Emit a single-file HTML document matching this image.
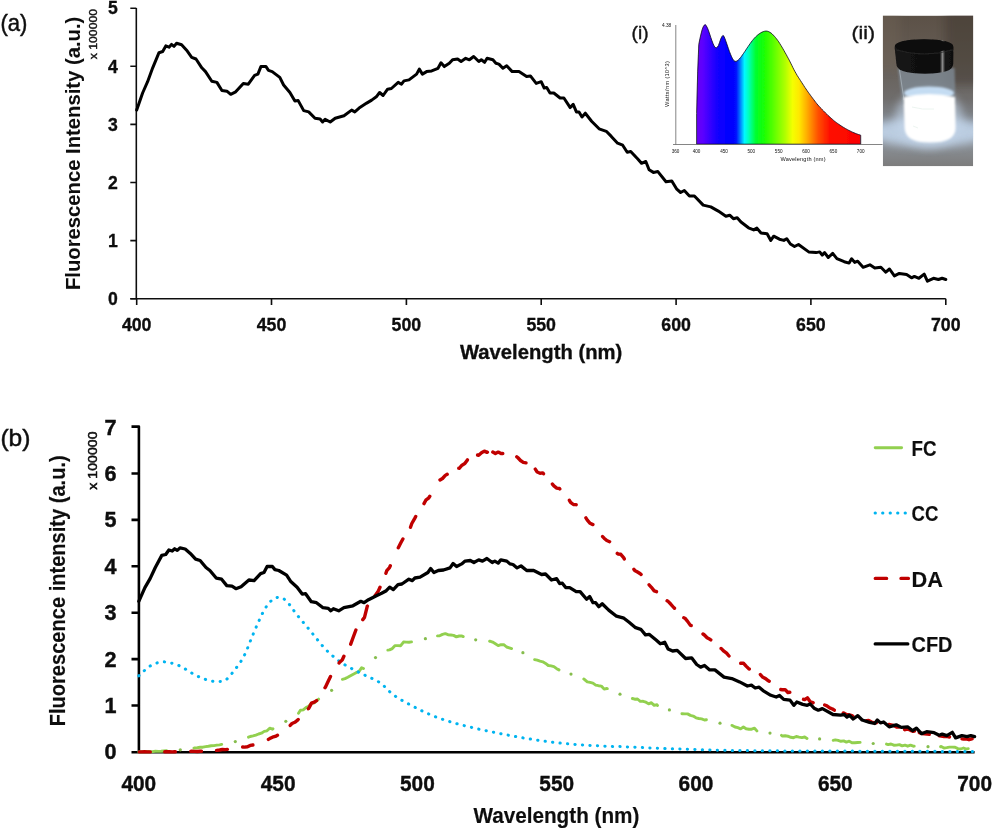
<!DOCTYPE html>
<html lang="en"><head><meta charset="utf-8"><title>Fluorescence spectra</title>
<style>
html,body{margin:0;padding:0;background:#fff;}
body{width:993px;height:828px;overflow:hidden;}
svg{display:block;}
text{font-family:"Liberation Sans",sans-serif;fill:#111;}
.b{font-weight:bold;stroke:#000;stroke-width:0.3px;}
#plot-b .b{stroke-width:0.15px;}
#plot-b .t{stroke-width:0.36px;}
</style></head><body>
<svg width="993" height="828" viewBox="0 0 993 828">
<defs>
<linearGradient id="spec" x1="0" y1="0" x2="1" y2="0">
<stop offset="0" stop-color="#6a00f4"/>
<stop offset="0.04" stop-color="#5a00ff"/>
<stop offset="0.085" stop-color="#3400ff"/>
<stop offset="0.13" stop-color="#1200ff"/>
<stop offset="0.20" stop-color="#0000ff"/>
<stop offset="0.24" stop-color="#0008ff"/>
<stop offset="0.265" stop-color="#0078ff"/>
<stop offset="0.292" stop-color="#00f8ff"/>
<stop offset="0.315" stop-color="#00ffc0"/>
<stop offset="0.36" stop-color="#00ff30"/>
<stop offset="0.40" stop-color="#10ff08"/>
<stop offset="0.46" stop-color="#50ff00"/>
<stop offset="0.54" stop-color="#b0ff00"/>
<stop offset="0.585" stop-color="#f4ff00"/>
<stop offset="0.625" stop-color="#ffe800"/>
<stop offset="0.67" stop-color="#ffb000"/>
<stop offset="0.74" stop-color="#ff5000"/>
<stop offset="0.81" stop-color="#ff1000"/>
<stop offset="1" stop-color="#fa0000"/>
</linearGradient>
<linearGradient id="pbg" x1="0" y1="0" x2="0" y2="1">
<stop offset="0" stop-color="#5c5147"/>
<stop offset="0.3" stop-color="#655d55"/>
<stop offset="0.55" stop-color="#6f6d6c"/>
<stop offset="0.72" stop-color="#868d96"/>
<stop offset="0.86" stop-color="#8a8f95"/>
<stop offset="1" stop-color="#7c7c7c"/>
</linearGradient>
<radialGradient id="glow" cx="0.5" cy="0.5" r="0.5">
<stop offset="0" stop-color="#ffffff" stop-opacity="1"/>
<stop offset="0.45" stop-color="#eaf4ff" stop-opacity="0.95"/>
<stop offset="0.7" stop-color="#b8d4ee" stop-opacity="0.6"/>
<stop offset="1" stop-color="#9ab4d0" stop-opacity="0"/>
</radialGradient>
<linearGradient id="cap" x1="0" y1="0" x2="1" y2="0">
<stop offset="0" stop-color="#141414"/>
<stop offset="0.77" stop-color="#0e0e0e"/>
<stop offset="0.815" stop-color="#8a8a8a"/>
<stop offset="0.86" stop-color="#141414"/>
<stop offset="1" stop-color="#101010"/>
</linearGradient>
<filter id="bl1" x="-20%" y="-20%" width="140%" height="140%"><feGaussianBlur stdDeviation="1.2"/></filter>
<filter id="bl2" x="-30%" y="-30%" width="160%" height="160%"><feGaussianBlur stdDeviation="4"/></filter>
<filter id="soft" x="-2%" y="-2%" width="104%" height="104%" filterUnits="objectBoundingBox"><feGaussianBlur stdDeviation="0.45"/></filter>
<filter id="bl05" x="-10%" y="-10%" width="120%" height="120%"><feGaussianBlur stdDeviation="0.45"/></filter>
<filter id="blt" x="-10%" y="-30%" width="120%" height="160%"><feGaussianBlur stdDeviation="0.5"/></filter>
<clipPath id="pclip"><rect x="882.8" y="15.6" width="90.4" height="150.7"/></clipPath>
</defs>
<rect width="993" height="828" fill="#fff"/>

<g id="plot-a" filter="url(#soft)">
<text x="0.4" y="30.6" font-size="24" textLength="27" lengthAdjust="spacingAndGlyphs" stroke="#111" stroke-width="0.5">(a)</text>
<g stroke="#111" stroke-width="1.6" fill="none">
<path d="M136.29999999999998 8V298.7M130.29999999999998 298.7H945.8"/>
<path d="M130.29999999999998 298.7H136.29999999999998M130.29999999999998 240.6H136.29999999999998M130.29999999999998 182.5H136.29999999999998M130.29999999999998 124.4H136.29999999999998M130.29999999999998 66.3H136.29999999999998M130.29999999999998 8.2H136.29999999999998M136.7 298.7V304.9M271.5 298.7V304.9M406.4 298.7V304.9M541.2 298.7V304.9M676.1 298.7V304.9M810.9 298.7V304.9M945.8 298.7V304.9"/></g>
<g class="b" font-size="17.6" text-anchor="end">
<text x="117.7" y="304.9">0</text>
<text x="117.7" y="246.8">1</text>
<text x="117.7" y="188.7">2</text>
<text x="117.7" y="130.6">3</text>
<text x="117.7" y="72.5">4</text>
<text x="117.7" y="14.4">5</text>
</g>
<g class="b" font-size="17.6" text-anchor="middle">
<text x="136.7" y="331.2" textLength="29.6" lengthAdjust="spacingAndGlyphs">400</text>
<text x="271.5" y="331.2" textLength="29.6" lengthAdjust="spacingAndGlyphs">450</text>
<text x="406.4" y="331.2" textLength="29.6" lengthAdjust="spacingAndGlyphs">500</text>
<text x="541.2" y="331.2" textLength="29.6" lengthAdjust="spacingAndGlyphs">550</text>
<text x="676.1" y="331.2" textLength="29.6" lengthAdjust="spacingAndGlyphs">600</text>
<text x="810.9" y="331.2" textLength="29.6" lengthAdjust="spacingAndGlyphs">650</text>
<text x="945.8" y="331.2" textLength="29.6" lengthAdjust="spacingAndGlyphs">700</text>
</g>
<text class="b" x="541.1" y="359.3" font-size="20.4" text-anchor="middle" textLength="162.4" lengthAdjust="spacingAndGlyphs">Wavelength (nm)</text>
<text class="b" stroke-width="0" style="stroke-width:0.05px" transform="translate(80.1 153.4) rotate(-90)" font-size="21" text-anchor="middle" textLength="273.4" lengthAdjust="spacingAndGlyphs">Fluorescence Intensity (a.u.)</text>
<text transform="translate(96.7 34.1) rotate(-90)" font-size="10.8" text-anchor="middle" textLength="50.4" lengthAdjust="spacingAndGlyphs" stroke="#111" stroke-width="0.4">x 100000</text>
<path d="M136.7 110.1L142.6 93.0L147.6 81.7L152.7 67.8L159.0 52.7L162.7 51.5L165.8 45.9L169.0 47.2L171.5 44.4L174.0 46.4L176.6 43.2L181.6 44.7L186.6 50.2L191.7 57.3L196.0 59.0L201.8 67.8L205.5 71.6L211.8 81.2L216.9 82.4L221.9 90.5L226.9 91.2L230.7 94.3L235.7 91.8L243.3 83.4L248.3 84.2L254.6 75.4L257.9 74.1L260.9 66.6L266.0 66.6L268.5 70.4L272.2 71.6L279.8 77.4L283.6 85.0L289.9 92.5L294.9 101.1L298.2 100.6L303.7 110.6L308.7 111.9L315.0 118.2L320.1 119.0L322.6 122.0L325.1 119.4L330.2 122.0L335.2 118.2L344.0 115.7L351.6 110.1L354.8 111.9L359.1 108.1L366.7 103.1L371.7 100.1L376.3 96.8L379.6 92.5L383.1 95.5L387.6 89.2L391.4 88.5L398.2 82.4L401.5 84.2L404.0 80.9L409.0 79.9L416.6 74.1L419.3 69.1L422.4 74.1L426.6 71.6L431.7 70.9L438.0 68.3L441.0 62.8L444.3 66.6L449.3 63.3L452.6 59.8L457.6 59.0L461.1 61.5L465.7 58.3L469.4 59.8L473.7 56.5L478.8 61.5L481.3 59.8L484.6 62.3L487.1 58.3L492.9 59.8L495.9 63.3L498.9 64.1L502.9 68.3L506.7 65.8L512.2 71.6L519.0 71.6L526.6 76.6L530.4 75.9L536.2 83.4L541.2 81.7L544.2 88.0L546.7 87.5L550.0 93.0L553.8 93.0L560.1 98.0L563.9 98.0L570.2 107.6L573.2 104.3L576.4 111.9L579.0 111.9L582.0 116.9L585.3 113.2L591.6 121.2L599.1 128.8L606.3 131.3L611.3 136.4L617.6 143.2L622.7 145.2L627.2 152.2L630.7 151.5L637.8 159.0L641.5 163.3L645.8 161.5L649.1 169.8L653.4 172.4L657.9 171.6L666.0 181.7L671.8 180.9L676.8 189.2L680.6 192.5L684.3 190.5L689.4 196.0L694.4 196.0L703.2 205.1L710.8 206.9L718.3 211.1L725.9 216.2L729.7 215.2L733.4 218.7L737.2 217.7L741.0 222.0L748.5 227.8L753.7 229.9L756.9 228.1L761.0 233.0L767.1 233.8L770.8 240.4L773.7 236.2L779.4 239.2L783.8 240.4L786.7 238.7L790.4 244.0L794.5 246.5L798.5 244.5L808.7 251.9L816.1 252.6L819.7 251.9L822.2 255.1L824.6 252.6L828.3 257.5L832.7 253.3L836.9 258.7L844.2 261.7L849.1 263.1L851.6 258.7L854.7 262.4L857.7 261.2L863.1 267.3L869.9 264.8L874.8 268.0L880.9 267.3L885.8 272.2L889.5 269.0L894.4 275.9L899.3 273.4L906.6 274.6L911.5 277.8L914.4 276.4L918.9 278.3L924.2 274.1L927.4 281.2L933.5 278.3L938.4 279.5L942.1 278.3L945.8 279.5" fill="none" stroke="#000" stroke-width="3" stroke-linejoin="round" stroke-linecap="round"/>
</g>
<g id="inset-i">
<text x="631.6" y="38.6" font-size="18.8" textLength="17" lengthAdjust="spacingAndGlyphs" fill="#222" stroke="#222" stroke-width="0.42">(i)</text>
<clipPath id="sclip"><path d="M696.6 144.2L696.6 113.6L697.7 71.1L698.8 44.4L699.9 38.8L701.0 34.0L702.1 29.8L703.2 26.8L704.3 25.1L705.4 24.6L706.4 26.0L707.5 28.1L708.6 30.9L709.7 34.1L710.8 37.5L711.9 40.6L713.0 43.5L714.1 45.9L715.2 47.4L716.3 47.8L717.4 47.1L718.5 45.4L719.6 42.3L720.7 39.1L721.8 36.7L722.9 35.4L724.0 36.3L725.0 38.8L726.1 41.8L727.2 45.0L728.3 48.3L729.4 51.4L730.5 54.2L731.6 56.8L732.7 59.0L733.8 60.5L734.9 61.3L736.0 61.4L737.1 60.9L738.2 60.1L739.3 59.0L740.4 57.7L741.5 56.3L742.5 54.8L743.6 53.3L744.7 51.7L745.8 50.0L746.9 48.3L748.0 46.7L749.1 45.1L750.2 43.5L751.3 42.0L752.4 40.5L753.5 39.2L754.6 37.9L755.7 36.8L756.8 35.8L757.9 34.8L759.0 34.0L760.1 33.3L761.1 32.6L762.2 32.1L763.3 31.6L764.4 31.3L765.5 31.1L766.6 31.1L767.7 31.3L768.8 31.7L769.9 32.3L771.0 33.0L772.1 33.9L773.2 35.0L774.3 36.2L775.4 37.4L776.5 38.8L777.6 40.3L778.7 41.8L779.7 43.4L780.8 45.2L781.9 47.0L783.0 48.9L784.1 50.8L785.2 52.8L786.3 54.7L787.4 56.8L788.5 58.8L789.6 60.9L790.7 63.1L791.8 65.3L792.9 67.6L794.0 69.8L795.1 71.8L796.2 73.7L797.2 75.5L798.3 77.2L799.4 78.9L800.5 80.6L801.6 82.3L802.7 84.0L803.8 85.7L804.9 87.4L806.0 89.0L807.1 90.6L808.2 92.2L809.3 93.7L810.4 95.2L811.5 96.7L812.6 98.2L813.7 99.6L814.8 101.1L815.8 102.4L816.9 103.8L818.0 105.1L819.1 106.3L820.2 107.5L821.3 108.6L822.4 109.8L823.5 110.9L824.6 112.0L825.7 113.1L826.8 114.2L827.9 115.3L829.0 116.3L830.1 117.3L831.2 118.3L832.3 119.2L833.4 120.2L834.4 121.1L835.5 121.9L836.6 122.7L837.7 123.5L838.8 124.3L839.9 125.0L841.0 125.8L842.1 126.5L843.2 127.2L844.3 127.8L845.4 128.5L846.5 129.1L847.6 129.7L848.7 130.3L849.8 130.8L850.9 131.4L851.9 131.9L853.0 132.4L854.1 132.8L855.2 133.3L856.3 133.7L857.4 134.1L858.5 134.5L859.6 134.8L860.7 135.2L860.7 144.2Z"/></clipPath><g filter="url(#bl05)"><g clip-path="url(#sclip)"><rect x="696.6" y="22.6" width="164.10000000000002" height="121.6" fill="url(#spec)"/></g><path d="M696.6 144.2L696.6 113.6L697.7 71.1L698.8 44.4L699.9 38.8L701.0 34.0L702.1 29.8L703.2 26.8L704.3 25.1L705.4 24.6L706.4 26.0L707.5 28.1L708.6 30.9L709.7 34.1L710.8 37.5L711.9 40.6L713.0 43.5L714.1 45.9L715.2 47.4L716.3 47.8L717.4 47.1L718.5 45.4L719.6 42.3L720.7 39.1L721.8 36.7L722.9 35.4L724.0 36.3L725.0 38.8L726.1 41.8L727.2 45.0L728.3 48.3L729.4 51.4L730.5 54.2L731.6 56.8L732.7 59.0L733.8 60.5L734.9 61.3L736.0 61.4L737.1 60.9L738.2 60.1L739.3 59.0L740.4 57.7L741.5 56.3L742.5 54.8L743.6 53.3L744.7 51.7L745.8 50.0L746.9 48.3L748.0 46.7L749.1 45.1L750.2 43.5L751.3 42.0L752.4 40.5L753.5 39.2L754.6 37.9L755.7 36.8L756.8 35.8L757.9 34.8L759.0 34.0L760.1 33.3L761.1 32.6L762.2 32.1L763.3 31.6L764.4 31.3L765.5 31.1L766.6 31.1L767.7 31.3L768.8 31.7L769.9 32.3L771.0 33.0L772.1 33.9L773.2 35.0L774.3 36.2L775.4 37.4L776.5 38.8L777.6 40.3L778.7 41.8L779.7 43.4L780.8 45.2L781.9 47.0L783.0 48.9L784.1 50.8L785.2 52.8L786.3 54.7L787.4 56.8L788.5 58.8L789.6 60.9L790.7 63.1L791.8 65.3L792.9 67.6L794.0 69.8L795.1 71.8L796.2 73.7L797.2 75.5L798.3 77.2L799.4 78.9L800.5 80.6L801.6 82.3L802.7 84.0L803.8 85.7L804.9 87.4L806.0 89.0L807.1 90.6L808.2 92.2L809.3 93.7L810.4 95.2L811.5 96.7L812.6 98.2L813.7 99.6L814.8 101.1L815.8 102.4L816.9 103.8L818.0 105.1L819.1 106.3L820.2 107.5L821.3 108.6L822.4 109.8L823.5 110.9L824.6 112.0L825.7 113.1L826.8 114.2L827.9 115.3L829.0 116.3L830.1 117.3L831.2 118.3L832.3 119.2L833.4 120.2L834.4 121.1L835.5 121.9L836.6 122.7L837.7 123.5L838.8 124.3L839.9 125.0L841.0 125.8L842.1 126.5L843.2 127.2L844.3 127.8L845.4 128.5L846.5 129.1L847.6 129.7L848.7 130.3L849.8 130.8L850.9 131.4L851.9 131.9L853.0 132.4L854.1 132.8L855.2 133.3L856.3 133.7L857.4 134.1L858.5 134.5L859.6 134.8L860.7 135.2L860.7 144.2Z" fill="none" stroke="#0a0a20" stroke-width="1" stroke-opacity="0.8"/></g>
<g filter="url(#bl05)"><path d="M675.8 25.0V144.5M673 144.5H882.6" stroke="#666" stroke-width="0.8" fill="none"/></g>
<g filter="url(#blt)" fill="#444">
<g font-size="4.6" text-anchor="middle" fill="#333">
<text x="675.6" y="153.4">360</text>
<text x="696.6" y="153.4">400</text>
<text x="724.0" y="153.4">450</text>
<text x="751.3" y="153.4">500</text>
<text x="778.7" y="153.4">550</text>
<text x="806.0" y="153.4">600</text>
<text x="833.4" y="153.4">650</text>
<text x="860.7" y="153.4">700</text>
</g>
<text x="803" y="161.2" font-size="5.6" text-anchor="middle" fill="#333" textLength="45" lengthAdjust="spacing">Wavelength (nm)</text>
<text x="666.6" y="27" font-size="4.8" text-anchor="middle" fill="#333">4.38</text>
<text transform="translate(669.2 84) rotate(-90)" font-size="5.6" text-anchor="middle" fill="#333" textLength="46" lengthAdjust="spacing">Watts/nm (10^3)</text>
</g>
</g>
<g id="inset-ii">
<text x="851.4" y="38.6" font-size="18.8" textLength="23.6" lengthAdjust="spacingAndGlyphs" fill="#222" stroke="#222" stroke-width="0.42">(ii)</text>
<g clip-path="url(#pclip)">
<rect x="882.8" y="15.6" width="90.4" height="150.7" fill="url(#pbg)"/>
<rect x="945" y="10" width="40" height="75" fill="#3e362e" opacity="0.45" filter="url(#bl2)"/>
<rect x="870" y="10" width="30" height="60" fill="#75695c" opacity="0.35" filter="url(#bl2)"/>
<ellipse cx="929" cy="132" rx="60" ry="15" fill="#c4d8ee" opacity="0.85" filter="url(#bl2)"/>
<ellipse cx="929" cy="118" rx="34" ry="30" fill="#c4d6ea" opacity="0.6" filter="url(#bl2)"/>
<path d="M897.8 68 L902.6 104 L955.6 104 L954.6 68Z" fill="#7f8a94" opacity="0.8" filter="url(#bl1)"/>
<path d="M899.5 70 L904 100" stroke="#aeb8c0" stroke-width="1" opacity="0.7" filter="url(#bl05)"/>
<ellipse cx="929" cy="93" rx="25" ry="6.5" fill="#c4dcf2" filter="url(#bl1)"/>
<path d="M903.6 97 Q929 91 955 97 L955.6 128 Q955.6 142.6 930 142.6 Q905 142.6 904.6 128Z" fill="#ffffff" filter="url(#bl1)"/>
<path d="M912 107 Q922 110 934 109 M913 126 L918 128" stroke="#d8e8e0" stroke-width="0.8" fill="none" opacity="0.6" filter="url(#bl05)"/>
<g filter="url(#bl05)"><path d="M894.6 47 Q894.6 39.4 924 39.2 Q953.4 39.4 953.4 47 L953.2 64 Q953 73.6 925 73.8 Q896.6 73.6 896.4 64Z" fill="url(#cap)"/>
<ellipse cx="924" cy="46" rx="29" ry="6.4" fill="#0c0c0c"/>
<path d="M896 50 Q924 58 952.6 50" stroke="#2a2a2a" stroke-width="0.8" fill="none"/></g>
</g>
</g>
<g id="plot-b" filter="url(#soft)">
<text x="0.4" y="446.4" font-size="24.5" textLength="30" lengthAdjust="spacingAndGlyphs" stroke="#111" stroke-width="0.5">(b)</text>
<g stroke="#000" stroke-width="2.6" fill="none" stroke-linejoin="round">
<path d="M131.5 426.6H138.9V752.1999999999999M131.5 752.1999999999999H974.6M131.5 705.5H138.9M131.5 659.1H138.9M131.5 612.7H138.9M131.5 566.3H138.9M131.5 519.9H138.9M131.5 473.5H138.9"/></g>
<path d="M138.8 751.9L141.6 751.6L144.4 751.9L147.2 751.5L149.9 751.7L152.7 751.6L155.5 751.2L158.3 751.4L161.1 751.3L163.9 751.0L166.5 750.8M193.9 748.1L194.5 748.0L197.3 747.7L200.1 747.3L202.9 747.2L205.7 746.6L208.4 746.2L211.2 745.7L214.0 745.6L216.8 745.1L219.6 744.9L221.7 744.4M248.5 737.2L250.2 736.5L253.0 735.9L255.8 735.1L258.6 734.0L261.4 733.2L264.2 731.4L267.0 730.8L269.7 728.2L272.5 729.2L273.0 728.8M298.5 713.2L300.4 710.3L303.2 709.9L306.0 707.6L308.7 706.2L311.5 703.3L314.3 702.9L317.1 700.3L318.6 699.1M342.4 679.3L345.0 678.6L347.8 677.2L350.5 675.7L353.3 674.2L356.1 672.7L358.9 671.7L361.7 667.7L363.5 668.5M387.8 650.1L389.5 649.9L392.3 648.6L395.1 645.6L397.9 645.6L400.7 645.7L403.5 642.0L406.3 642.1L409.0 642.2L411.5 641.9M437.5 635.9L439.7 635.8L442.5 634.4L445.3 633.6L448.0 634.7L450.8 635.0L453.6 635.4L456.4 636.9L459.2 636.0L462.0 636.0L463.2 636.6M489.6 641.2L489.8 641.1L492.6 642.1L495.4 643.8L498.2 645.6L501.0 644.6L503.8 644.7L506.6 647.0L509.3 647.8L511.6 648.6M534.6 659.6L537.2 660.2L540.0 661.2L542.8 661.8L545.6 663.4L548.3 665.5L551.1 665.9L553.9 666.6L556.7 668.7L559.0 669.9M583.8 679.1L584.6 679.6L587.3 681.9L590.1 682.4L592.9 683.1L595.7 685.1L598.5 685.7L601.3 686.1L604.1 689.1L606.8 688.5L607.3 688.6M632.4 698.5L634.7 699.2L637.5 699.0L640.3 701.4L643.1 701.3L645.9 702.2L648.6 703.8L651.4 702.7L654.2 705.4L657.0 704.7L657.5 705.5M681.9 713.7L682.1 713.7L684.9 713.9L687.6 713.9L690.4 715.4L693.2 716.1L696.0 717.8L698.8 718.5L701.6 718.9L704.4 720.0L706.4 719.7M731.9 725.4L732.2 725.4L735.0 727.0L737.8 727.7L740.6 728.9L743.4 727.0L746.1 728.8L748.9 729.2L751.7 729.2L754.5 728.2L756.9 730.9M781.5 735.4L782.4 736.0L785.2 735.8L787.9 736.2L790.7 737.3L793.5 737.7L796.3 736.5L799.1 737.1L801.9 737.6L804.7 737.0L807.0 738.4M833.2 740.3L835.3 739.9L838.1 740.4L840.9 741.3L843.7 740.9L846.4 742.1L849.2 741.2L852.0 742.7L854.8 742.7L857.6 742.5L860.1 742.4M886.5 744.1L888.2 744.6L891.0 744.0L893.8 745.2L896.6 745.1L899.4 744.6L902.2 745.9L905.0 745.2L907.7 746.2L910.5 745.2L913.3 746.2L914.2 746.1M940.6 746.7L941.2 746.5L944.0 748.0L946.7 747.6L949.5 747.1L952.3 747.1L955.1 747.2L957.9 748.6L960.7 749.0L963.5 748.0L966.2 749.1L968.3 748.7" fill="none" stroke="#92d050" stroke-width="2.9" stroke-linejoin="round" stroke-linecap="round"/>
<g fill="#86bd4e"><circle cx="180.3" cy="749.8" r="1.6"/><circle cx="235.3" cy="741.6" r="1.6"/><circle cx="285.8" cy="721.3" r="1.6"/><circle cx="331.6" cy="690.3" r="1.6"/><circle cx="375.5" cy="657.6" r="1.6"/><circle cx="425.4" cy="638.7" r="1.6"/><circle cx="475.7" cy="639.8" r="1.6"/><circle cx="522.9" cy="652.7" r="1.6"/><circle cx="571.0" cy="674.1" r="1.6"/><circle cx="620.0" cy="694.2" r="1.6"/><circle cx="669.4" cy="709.9" r="1.6"/><circle cx="720.0" cy="723.2" r="1.6"/><circle cx="770.0" cy="733.1" r="1.6"/><circle cx="819.6" cy="738.9" r="1.6"/><circle cx="873.2" cy="743.5" r="1.6"/><circle cx="928.0" cy="746.7" r="1.6"/></g>
<path d="M138.8 675.8L141.6 673.2L144.4 670.6L147.2 668.1L149.9 666.1L152.7 664.6L155.5 663.4L158.3 662.6L161.1 662.0L163.9 661.8L166.7 662.1L169.4 662.6L172.2 663.3L175.0 664.0L177.8 665.0L180.6 666.3L183.4 667.9L186.2 669.6L188.9 671.3L191.7 673.0L194.5 674.6L197.3 676.1L200.1 677.4L202.9 678.5L205.7 679.5L208.4 680.4L211.2 681.0L214.0 681.4L216.8 681.4L219.6 681.5L222.4 681.3L225.2 680.3L228.0 678.2L230.7 675.1L233.5 671.4L236.3 667.8L239.1 664.1L241.9 659.9L244.7 654.6L247.5 648.3L250.2 641.4L253.0 634.5L255.8 628.0L258.6 621.6L261.4 615.4L264.2 610.0L267.0 605.6L269.7 602.2L272.5 599.7L275.3 597.9L278.1 597.3L280.9 597.6L283.7 598.8L286.5 601.0L289.2 604.2L292.0 608.0L294.8 612.0L297.6 615.6L300.4 619.0L303.2 622.3L306.0 625.6L308.7 628.9L311.5 632.3L314.3 635.8L317.1 639.3L319.9 642.8L322.7 646.1L325.5 649.1L328.2 651.9L331.0 654.5L333.8 656.9L336.6 659.2L339.4 661.3L342.2 663.2L345.0 664.9L347.8 666.4L350.5 667.9L353.3 669.4L356.1 670.9L358.9 672.3L361.7 673.6L364.5 675.0L367.3 676.3L370.0 677.6L372.8 678.8L375.6 680.1L378.4 681.7L381.2 683.6L384.0 686.0L386.8 688.7L389.5 691.5L392.3 694.0L395.1 696.1L397.9 697.9L400.7 699.6L403.5 701.2L406.3 702.7L409.0 704.2L411.8 705.6L414.6 707.1L417.4 708.6L420.2 710.0L423.0 711.3L425.8 712.7L428.5 713.9L431.3 715.1L434.1 716.3L436.9 717.3L439.7 718.3L442.5 719.3L445.3 720.2L448.0 721.1L450.8 722.0L453.6 722.8L456.4 723.6L459.2 724.3L462.0 725.1L464.8 725.8L467.5 726.4L470.3 727.1L473.1 727.8L475.9 728.4L478.7 729.1L481.5 729.7L484.3 730.3L487.1 730.9L489.8 731.4L492.6 732.0L495.4 732.6L498.2 733.2L501.0 733.7L503.8 734.3L506.6 734.8L509.3 735.4L512.1 735.9L514.9 736.4L517.7 736.9L520.5 737.4L523.3 737.9L526.1 738.3L528.8 738.8L531.6 739.2L534.4 739.7L537.2 740.1L540.0 740.5L542.8 740.9L545.6 741.3L548.3 741.7L551.1 742.0L553.9 742.4L556.7 742.7L559.5 743.0L562.3 743.3L565.1 743.6L567.8 743.8L570.6 744.1L573.4 744.3L576.2 744.5L579.0 744.7L581.8 744.9L584.6 745.1L587.3 745.2L590.1 745.4L592.9 745.6L595.7 745.7L598.5 745.8L601.3 746.0L604.1 746.1L606.8 746.2L609.6 746.3L612.4 746.4L615.2 746.4L618.0 746.5L620.8 746.6L623.6 746.7L626.4 746.9L629.1 747.0L631.9 747.1L634.7 747.2L637.5 747.4L640.3 747.5L643.1 747.6L645.9 747.7L648.6 747.9L651.4 748.0L654.2 748.1L657.0 748.2L659.8 748.3L662.6 748.4L665.4 748.6L668.1 748.7L670.9 748.8L673.7 748.8L676.5 748.9L679.3 749.0L682.1 749.1L684.9 749.2L687.6 749.3L690.4 749.4L693.2 749.5L696.0 749.6L698.8 749.7L701.6 749.8L704.4 749.8L707.1 749.9L709.9 750.0L712.7 750.1L715.5 750.1L718.3 750.2L721.1 750.2L723.9 750.3L726.6 750.3L729.4 750.4L732.2 750.4L735.0 750.4L737.8 750.5L740.6 750.5L743.4 750.5L746.1 750.6L748.9 750.6L751.7 750.6L754.5 750.7L757.3 750.7L760.1 750.7L762.9 750.7L765.6 750.7L768.4 750.8L771.2 750.8L774.0 750.8L776.8 750.8L779.6 750.8L782.4 750.9L785.2 750.9L787.9 750.9L790.7 750.9L793.5 750.9L796.3 750.9L799.1 750.9L801.9 750.9L804.7 751.0L807.4 751.0L810.2 751.0L813.0 751.0L815.8 751.0L818.6 751.0L821.4 751.0L824.2 751.0L826.9 751.1L829.7 751.1L832.5 751.1L835.3 751.1L838.1 751.1L840.9 751.1L843.7 751.1L846.4 751.1L849.2 751.1L852.0 751.1L854.8 751.1L857.6 751.2L860.4 751.2L863.2 751.2L865.9 751.2L868.7 751.2L871.5 751.2L874.3 751.2L877.1 751.2L879.9 751.2L882.7 751.2L885.4 751.2L888.2 751.2L891.0 751.2L893.8 751.2L896.6 751.3L899.4 751.3L902.2 751.3L905.0 751.3L907.7 751.3L910.5 751.3L913.3 751.3L916.1 751.3L918.9 751.3L921.7 751.3L924.5 751.3L927.2 751.3L930.0 751.3L932.8 751.3L935.6 751.3L938.4 751.3L941.2 751.4L944.0 751.4L946.7 751.4L949.5 751.4L952.3 751.4L955.1 751.4L957.9 751.4L960.7 751.4L963.5 751.4L966.2 751.4L969.0 751.4L971.8 751.4L974.6 751.4" fill="none" stroke="#00b4f0" stroke-width="3" stroke-linecap="round" stroke-dasharray="0.3 7.2"/>
<path d="M139.4 751.9L141.6 751.9L144.4 751.8L147.2 751.9L149.9 751.9L150.3 751.9M164.8 751.8L166.7 751.7L169.4 751.8L172.2 751.9L175.0 751.7L175.4 751.7M190.8 751.3L191.7 751.1L194.5 751.4L197.3 751.5L200.1 751.3L201.5 751.3M216.5 750.4L216.8 750.4L219.6 750.0L222.4 749.5L225.2 749.6L227.4 749.4M242.6 747.0L244.7 747.1L247.5 746.8L250.2 745.4L252.9 745.0M268.4 739.4L269.7 738.6L272.5 737.2L275.3 736.4L277.5 735.2M290.2 725.4L292.0 723.5L294.8 722.3L297.6 720.2L298.2 719.5M308.4 708.7L308.7 708.5L311.5 703.1L314.3 702.1L316.6 700.6M325.0 687.7L325.5 687.0L328.2 681.2L330.5 676.5M339.1 663.0L339.4 662.4L342.2 660.0L343.9 656.2M350.7 644.2L353.3 637.0L355.9 630.0M362.8 619.6L364.5 617.4L367.3 606.2L367.4 606.1M375.0 595.8L375.6 594.9L378.4 590.9L380.0 587.3M385.9 573.3L386.8 570.6L389.5 567.6L390.3 565.8M398.3 547.8L400.7 543.1L402.9 539.0M410.5 527.3L411.8 523.5L414.6 518.6L415.7 516.5M424.0 503.6L425.8 500.2L428.5 498.2L429.8 496.3M440.0 480.0L442.5 478.5L445.3 475.4L447.2 474.3M458.8 468.2L459.2 468.3L462.0 465.2L464.8 463.6L467.4 459.9M477.6 455.0L478.7 455.3L481.5 452.8L484.3 451.1L487.1 452.4L487.4 452.2M492.8 452.0L495.4 453.5L498.2 452.1L501.0 453.6L502.8 453.5M516.8 456.8L517.7 457.5L520.5 460.5L523.3 462.4L526.0 462.9M535.3 469.1L537.2 472.0L540.0 473.2L542.8 472.9L543.5 473.8M552.4 484.1L553.9 485.9L556.7 488.1L559.5 488.5L559.8 488.9M569.4 500.3L570.6 502.4L573.4 504.5L576.2 504.6L576.2 504.7M585.9 517.9L587.3 520.1L590.1 523.3L592.9 524.6M602.6 536.6L604.1 538.2L606.8 540.5L609.6 541.7M617.3 553.4L618.0 554.0L620.8 554.3L623.6 557.6L624.3 558.9M633.9 569.4L634.7 570.4L637.5 572.0L640.3 573.8L641.1 574.5M649.1 584.8L651.4 587.3L654.2 590.9L656.5 591.7M667.1 600.8L668.1 601.4L670.9 604.3L673.7 607.5L674.5 608.3M683.8 617.7L684.9 618.2L687.6 621.4L690.4 625.4L691.2 625.5M703.0 634.0L704.4 635.0L707.1 637.8L709.9 639.3L710.8 639.9M721.0 648.4L721.1 648.4L723.9 651.2L726.6 653.2L729.0 656.0M740.7 663.3L743.4 663.1L746.1 666.1L748.9 668.9L749.3 669.1M760.4 674.6L762.9 677.3L765.6 678.6L768.4 680.8L769.2 681.2M780.8 689.5L782.4 689.8L785.2 689.6L787.9 692.5L789.8 692.3M803.5 699.3L804.7 699.6L807.4 697.8L810.2 701.8L813.0 702.7L813.1 702.8M824.7 705.0L826.9 705.9L829.7 707.9L832.5 709.0L834.3 710.2M843.2 712.9L843.7 712.9L846.4 714.4L849.2 714.9L852.0 715.7L852.8 716.2M866.4 720.7L868.7 720.5L871.5 722.0L874.3 722.9L876.4 722.8M889.1 724.4L891.0 724.8L893.8 725.4L896.6 727.0L899.1 727.1M904.6 729.5L905.0 729.7L907.7 729.0L910.5 730.3L913.3 731.3L914.4 731.1M919.3 732.6L921.7 733.5L924.5 733.8L927.2 734.1L929.3 734.3M939.3 735.9L941.2 736.1L944.0 736.5L946.7 736.4L949.5 737.0M962.0 738.9L963.5 739.1L966.2 738.9L969.0 739.7L971.8 738.8L972.2 738.8" fill="none" stroke="#c00000" stroke-width="3.4" stroke-linejoin="round" stroke-linecap="round"/>
<path d="M138.8 601.3L144.9 587.6L150.1 578.6L155.3 567.5L161.8 555.4L165.7 554.5L168.9 550.0L172.2 551.0L174.7 548.8L177.3 550.4L180.0 547.9L185.2 549.0L190.3 553.4L195.6 559.1L200.1 560.5L206.0 567.5L209.9 570.5L216.4 578.2L221.6 579.2L226.8 585.6L232.0 586.2L235.9 588.7L241.1 586.7L248.9 580.0L254.1 580.6L260.6 573.6L264.0 572.5L267.1 566.5L272.4 566.5L274.9 569.6L278.8 570.5L286.6 575.2L290.5 581.2L297.1 587.2L302.2 594.1L305.6 593.7L311.3 601.7L316.5 602.7L323.0 607.7L328.3 608.4L330.8 610.8L333.4 608.7L338.7 610.8L343.9 607.7L352.9 605.8L360.8 601.3L364.1 602.7L368.5 599.7L376.4 595.7L381.6 593.3L386.3 590.7L389.7 587.2L393.3 589.6L398.0 584.6L401.9 584.0L408.9 579.2L412.3 580.6L414.9 578.0L420.1 577.2L427.9 572.5L430.7 568.5L433.9 572.5L438.3 570.5L443.5 570.0L450.0 567.9L453.1 563.5L456.6 566.5L461.7 563.9L465.1 561.1L470.3 560.5L473.9 562.5L478.7 559.9L482.5 561.1L486.9 558.5L492.2 562.5L494.8 561.1L498.2 563.1L500.8 559.9L506.8 561.1L509.9 563.9L513.0 564.5L517.1 567.9L521.0 565.9L526.7 570.5L533.7 570.5L541.6 574.5L545.5 574.0L551.5 580.0L556.6 578.6L559.7 583.6L562.3 583.2L565.7 587.6L569.7 587.6L576.2 591.6L580.1 591.6L586.6 599.3L589.7 596.6L593.0 602.7L595.7 602.7L598.8 606.7L602.2 603.8L608.7 610.1L616.5 616.2L623.9 618.2L629.1 622.3L635.6 627.7L640.8 629.3L645.5 634.9L649.1 634.3L656.4 640.3L660.3 643.8L664.7 642.3L668.1 649.0L672.6 651.0L677.2 650.4L685.6 658.5L691.6 657.8L696.7 664.5L700.6 667.1L704.5 665.5L709.7 669.9L714.9 669.9L724.0 677.1L731.8 678.6L739.6 681.9L747.4 686.0L751.4 685.2L755.2 688.0L759.1 687.2L763.0 690.6L770.8 695.3L776.2 697.0L779.5 695.5L783.7 699.4L790.0 700.1L793.8 705.3L796.8 702.0L802.7 704.4L807.3 705.3L810.2 704.0L814.1 708.2L818.3 710.2L822.4 708.6L833.0 714.5L840.6 715.1L844.3 714.5L846.9 717.1L849.4 715.1L853.2 719.0L857.8 715.6L862.1 720.0L869.6 722.4L874.7 723.5L877.3 720.0L880.5 722.9L883.6 722.0L889.2 726.8L896.2 724.8L901.3 727.4L907.6 726.8L912.6 730.7L916.4 728.2L921.5 733.7L926.6 731.7L934.1 732.7L939.2 735.2L942.2 734.1L946.8 735.6L952.3 732.3L955.6 737.9L961.9 735.6L967.0 736.6L970.8 735.6L974.6 736.6" fill="none" stroke="#000" stroke-width="3.3" stroke-linejoin="round" stroke-linecap="round"/>
<g class="b t" font-size="21.6" text-anchor="end" fill="#000">
<text x="116.5" y="759.3">0</text>
<text x="116.5" y="712.9">1</text>
<text x="116.5" y="666.5">2</text>
<text x="116.5" y="620.1">3</text>
<text x="116.5" y="573.7">4</text>
<text x="116.5" y="527.3">5</text>
<text x="116.5" y="480.9">6</text>
<text x="116.5" y="434.5">7</text>
</g>
<g class="b t" font-size="22.4" text-anchor="middle" fill="#000">
<text x="138.8" y="790.9" textLength="34.8" lengthAdjust="spacingAndGlyphs">400</text>
<text x="278.1" y="790.9" textLength="34.8" lengthAdjust="spacingAndGlyphs">450</text>
<text x="417.4" y="790.9" textLength="34.8" lengthAdjust="spacingAndGlyphs">500</text>
<text x="556.7" y="790.9" textLength="34.8" lengthAdjust="spacingAndGlyphs">550</text>
<text x="696.0" y="790.9" textLength="34.8" lengthAdjust="spacingAndGlyphs">600</text>
<text x="835.3" y="790.9" textLength="34.8" lengthAdjust="spacingAndGlyphs">650</text>
<text x="974.6" y="790.9" textLength="34.8" lengthAdjust="spacingAndGlyphs">700</text>
</g>
<text class="b" x="556.4" y="823" font-size="21.8" text-anchor="middle" textLength="166" lengthAdjust="spacingAndGlyphs" fill="#000">Wavelength (nm)</text>
<text class="b" transform="translate(64.6 590.8) rotate(-90)" font-size="21.8" text-anchor="middle" textLength="271" lengthAdjust="spacingAndGlyphs" fill="#000">Fluorescence intensity (a.u.)</text>
<text transform="translate(96.9 460.6) rotate(-90)" font-size="12.4" text-anchor="middle" textLength="58.4" lengthAdjust="spacingAndGlyphs" fill="#000" stroke="#000" stroke-width="0.45">x 100000</text>
<path d="M875.2 447.8H901.6" stroke="#92d050" stroke-width="2.9" stroke-linecap="round"/>
<path d="M875.1 512.9H908.8" stroke="#00b4f0" stroke-width="3" stroke-linecap="round" stroke-dasharray="0.3 7.2"/>
<path d="M875.3 578.4H886.6M901 578.4H908.4" stroke="#c00000" stroke-width="3.4" stroke-linecap="round"/>
<path d="M875.2 643.9H907.8" stroke="#000" stroke-width="3.3" stroke-linecap="round"/>
<g class="b" font-size="22.9" fill="#000">
<text x="911.5" y="456.3" textLength="25" lengthAdjust="spacingAndGlyphs">FC</text>
<text x="911.5" y="521.3" textLength="26.8" lengthAdjust="spacingAndGlyphs">CC</text>
<text x="911.5" y="586.7" textLength="31.4" lengthAdjust="spacingAndGlyphs">DA</text>
<text x="911.5" y="652.3" textLength="41" lengthAdjust="spacingAndGlyphs">CFD</text>
</g>
</g>
</svg></body></html>
